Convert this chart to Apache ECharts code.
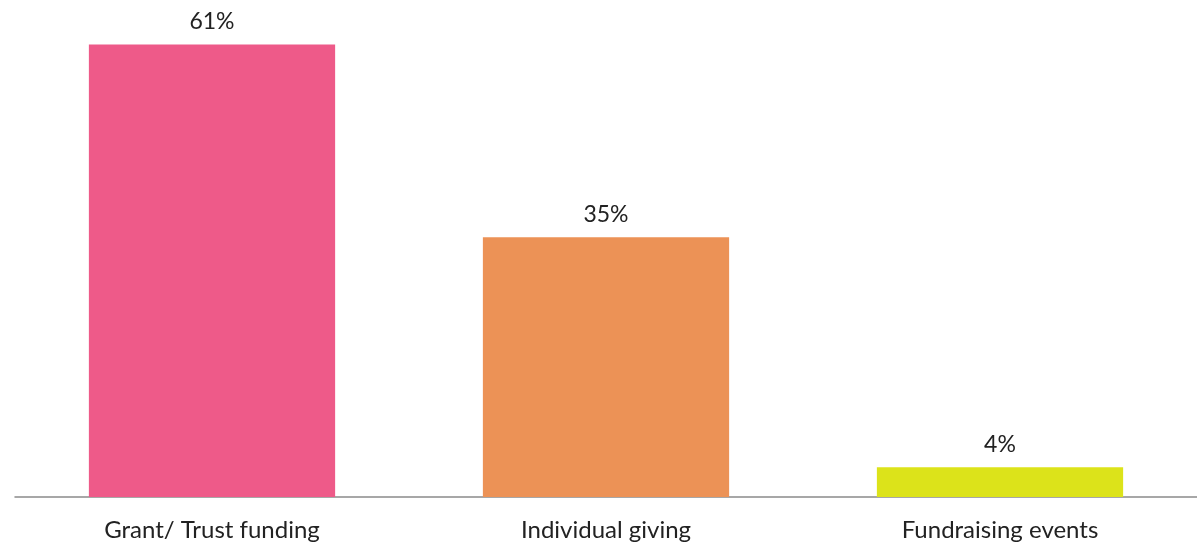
<!DOCTYPE html>
<html>
<head>
<meta charset="utf-8">
<script src="https://cdn.jsdelivr.net/npm/echarts@6/dist/echarts.min.js"></script>
<style>
  html, body { margin: 0; padding: 0; background: #fff; }
  #main { width: 1197px; height: 550px; }
</style>
</head>
<body>
<div id="main"></div>
<script>
// funding sources
var categories = ['Grant/ Trust funding', 'Individual giving', 'Fundraising events'];
var shares = [61, 35, 4];
var barColors = ['#EE5A89', '#EC9256', '#DCE31A'];

var chart = echarts.init(document.getElementById('main'));

var option = {
  animation: false,
  grid: { left: 15, right: 0, top: 0, bottom: 53 },
  xAxis: {
    type: 'category',
    data: categories,
    axisLine: { lineStyle: { color: '#8a8a8a', width: 1.5 } },
    axisTick: { show: false },
    axisLabel: {
      color: '#222',
      fontFamily: 'Lato',
      fontSize: 24,
      margin: 21
    }
  },
  yAxis: {
    type: 'value',
    min: 0,
    max: 67,
    show: false
  },
  series: [{
    type: 'bar',
    barWidth: '62.5%',
    data: shares.map(function (v, i) {
      return { value: v, itemStyle: { color: barColors[i] } };
    }),
    label: {
      show: true,
      position: 'top',
      distance: 11,
      formatter: '{c}%',
      color: '#222',
      fontFamily: 'Lato',
      fontSize: 23
    }
  }]
};
chart.setOption(option);
</script>
</body>
</html>
